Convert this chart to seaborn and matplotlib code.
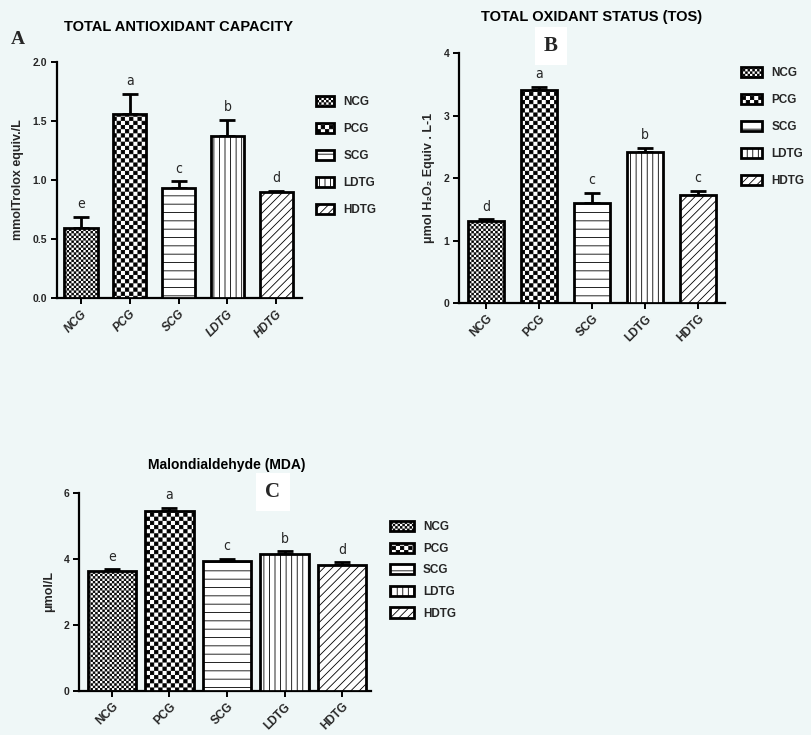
import numpy as np
import pandas as pd
import matplotlib
matplotlib.use("Agg")
import matplotlib.pyplot as plt
import matplotlib.hatch as mhatch
from matplotlib.path import Path
import seaborn as sns

# ---------------------------------------------------------------- data
groups = ["NCG", "PCG", "SCG", "LDTG", "HDTG"]

tac_mean = [0.59, 1.56, 0.93, 1.375, 0.895]
tac_sem = [0.10, 0.17, 0.06, 0.135, 0.015]
tac_letters = ["e", "a", "c", "b", "d"]

tos_mean = [1.31, 3.41, 1.60, 2.42, 1.73]
tos_sem = [0.03, 0.05, 0.16, 0.06, 0.07]
tos_letters = ["d", "a", "c", "b", "c"]

mda_mean = [3.63, 5.45, 3.93, 4.14, 3.83]
mda_sem = [0.06, 0.11, 0.08, 0.09, 0.07]
mda_letters = ["e", "a", "c", "b", "d"]


# ------------------------------------------------- checkerboard hatch
class CheckerHatch(mhatch.HatchPatternBase):
    """Checkerboard of filled squares; every '*' adds `density` cells per row."""

    def __init__(self, hatch, density):
        self.cells = hatch.count("*") * density
        self.num_vertices = 5 * (self.cells * self.cells // 2)

    def set_vertices_and_codes(self, vertices, codes):
        n = self.cells
        ii, jj = np.meshgrid(np.arange(n), np.arange(n), indexing="ij")
        on = (ii + jj) % 2 == 0
        step = 1.0 / n
        inset = 0.004
        x0 = ii[on] * step + inset
        y0 = jj[on] * step + inset
        size = step - 2 * inset
        corners = np.array([[0, 0], [1, 0], [1, 1], [0, 1], [0, 0]]) * size
        verts = np.stack([x0, y0], axis=1)[:, None, :] + corners[None, :, :]
        vertices[:] = verts.reshape(-1, 2)
        codes[:] = np.tile([Path.MOVETO, Path.LINETO, Path.LINETO,
                            Path.LINETO, Path.CLOSEPOLY], len(x0))


mhatch._hatch_types[:] = [h for h in mhatch._hatch_types
                          if h is not mhatch.Stars] + [CheckerHatch]

group_hatches = ["*******", "****", "--", "|||", "////"]

# --------------------------------------------------------------- style
BG = "#EFF7F7"
sns.set_style("ticks")
plt.rcParams["font.family"] = ["Liberation Sans", "DejaVu Sans"]
plt.rcParams["hatch.linewidth"] = 0.6
plt.rcParams["hatch.color"] = "black"
plt.rcParams["axes.facecolor"] = BG
plt.rcParams["figure.facecolor"] = BG
plt.rcParams["savefig.facecolor"] = BG

W, H = 811, 735
fig = plt.figure(figsize=(W / 100, H / 100), dpi=100)


def rect(left, top, right, bottom):
    return [left / W, 1 - bottom / H, (right - left) / W, (bottom - top) / H]


def fpos(x, y):
    return x / W, 1 - y / H


def panel(box, means, sems, letters, width, xlim, ylim, yticks, yfmt,
          ylabel, italic_ticks, legend_box, handlelength, labelspacing):
    ax = fig.add_axes(rect(*box))
    df = pd.DataFrame({"group": groups, "value": means})
    sns.barplot(data=df, x="group", y="value", ax=ax, color="white",
                saturation=1, edgecolor="black", linewidth=2.0, width=width,
                errorbar=None, zorder=3)
    bars = list(ax.patches[:len(groups)])
    for bar, hatch in zip(bars, group_hatches):
        bar.set_hatch(hatch)
    centers = [b.get_x() + b.get_width() / 2 for b in bars]
    ax.errorbar(centers, means, yerr=[np.zeros(len(means)), sems], fmt="none",
                ecolor="black", elinewidth=2.0, capsize=6, capthick=2.0,
                zorder=2)
    for x, m, s, lab in zip(centers, means, sems, letters):
        ax.annotate(lab, (x, m + s), xytext=(0, 4), textcoords="offset points",
                    ha="center", va="bottom", fontsize=10,
                    family="DejaVu Sans", fontstretch="condensed")
    ax.set_xlim(*xlim)
    ax.set_ylim(*ylim)
    ax.set_yticks(yticks)
    ax.set_yticklabels([yfmt.format(t) for t in yticks])
    ax.set_xlabel("")
    ax.set_ylabel(ylabel, fontsize=9, fontweight="bold", labelpad=6)
    sns.despine(ax=ax)
    for side in ("left", "bottom"):
        ax.spines[side].set_linewidth(1.6)
        ax.spines[side].set_color("black")
    ax.tick_params(axis="both", width=1.4, length=4, color="black",
                   labelsize=7.5, pad=3)
    for t in ax.get_yticklabels():
        t.set_fontweight("bold")
    for t in ax.get_xticklabels():
        t.set_fontweight("bold")
        t.set_fontsize(8.5)
        t.set_rotation(45)
        t.set_ha("right")
        t.set_rotation_mode("anchor")
        if italic_ticks:
            t.set_fontstyle("italic")
    ax.legend(handles=bars, labels=groups, loc="upper left",
              bbox_to_anchor=fpos(*legend_box), bbox_transform=fig.transFigure,
              frameon=False, borderpad=0, borderaxespad=0,
              handlelength=handlelength, handleheight=0.95,
              handletextpad=0.8, labelspacing=labelspacing,
              prop={"weight": "bold", "size": 8.5})
    return ax


# ---------------------------------------------- A: antioxidant capacity
panel((57, 62, 302, 298), tac_mean, tac_sem, tac_letters, 0.68,
      (-0.49, 4.53), (0, 2.0), [0.0, 0.5, 1.0, 1.5, 2.0], "{:.1f}",
      "mmolTrolox equiv./L", True, (316, 96), 1.5, 1.25)
fig.text(*fpos(178, 27), "TOTAL ANTIOXIDANT CAPACITY", ha="center",
         va="center", fontsize=10.5, fontweight="bold", color="black")
fig.text(*fpos(18, 39), "A", ha="center", va="center", fontsize=14,
         fontweight="bold", family=["Liberation Serif", "DejaVu Serif"])

# -------------------------------------------------- B: oxidant status
panel((459, 53, 725, 303), tos_mean, tos_sem, tos_letters, 0.68,
      (-0.51, 4.51), (0, 4), [0, 1, 2, 3, 4], "{:d}",
      "μmol H₂O₂ Equiv . L-1", False, (741, 67), 1.8, 1.25)
fig.text(*fpos(592, 17), "TOTAL OXIDANT STATUS (TOS)", ha="center",
         va="center", fontsize=10.5, fontweight="bold", color="black")
fig.text(*fpos(551, 46), "B", ha="center", va="center", fontsize=15,
         fontweight="bold", family=["Liberation Serif", "DejaVu Serif"],
         bbox=dict(boxstyle="square,pad=0.45", facecolor="white",
                   edgecolor="none"))

# ------------------------------------------------- C: malondialdehyde
panel((79, 493, 371, 691), mda_mean, mda_sem, mda_letters, 0.84,
      (-0.57, 4.5), (0, 6), [0, 2, 4, 6], "{:d}",
      "μmol/L", False, (390, 521), 2.0, 0.8)
fig.text(*fpos(227, 465), "Malondialdehyde (MDA)", ha="center",
         va="center", fontsize=10, fontweight="bold", color="black")
fig.text(*fpos(273, 492), "C", ha="center", va="center", fontsize=15,
         fontweight="bold", family=["Liberation Serif", "DejaVu Serif"],
         bbox=dict(boxstyle="square,pad=0.45", facecolor="white",
                   edgecolor="none"))

fig.savefig("out.png", dpi=100)
